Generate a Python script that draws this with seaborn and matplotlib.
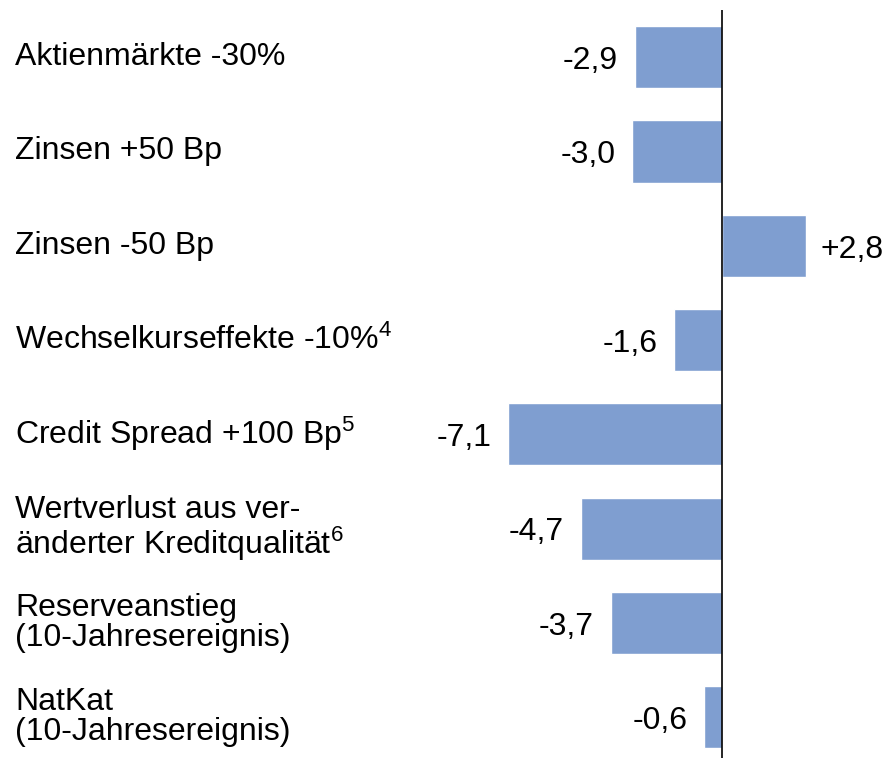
import matplotlib
matplotlib.use("Agg")
import matplotlib.pyplot as plt
import matplotlib.transforms as mtransforms
import seaborn as sns

labels = [
    "Aktienmärkte -30%",
    "Zinsen +50 Bp",
    "Zinsen -50 Bp",
    "Wechselkurseffekte -10%$^{4}$",
    "Credit Spread +100 Bp$^{5}$",
    "Wertverlust aus ver-\nänderter Kreditqualität$^{6}$",
    "Reserveanstieg\n(10-Jahresereignis)",
    "NatKat\n(10-Jahresereignis)",
]
values = [-2.9, -3.0, 2.8, -1.6, -7.1, -4.7, -3.7, -0.6]
value_text = ["-2,9", "-3,0", "+2,8", "-1,6", "-7,1", "-4,7", "-3,7", "-0,6"]

sns.set_style("white")
plt.rcParams['font.family'] = ['Liberation Sans', 'DejaVu Sans']
plt.rcParams['mathtext.default'] = 'regular'
plt.rcParams['text.color'] = 'black'

W, H = 884, 758
fig = plt.figure(figsize=(W / 100, H / 100), dpi=100)
ax = fig.add_axes([400 / W, 0, 1 - 400 / W, 1 - 10 / H])

ids = [str(i) for i in range(len(values))]
sns.barplot(x=values, y=ids, orient="h", color="#7F9ED0", width=0.66,
            saturation=1, ax=ax)

ax.set_xlim((400 - 722) / 30.1, (884 - 722) / 30.1)
ax.set_ylim(-0.5 + 748 / 94.3, -0.5)
ax.axvline(0, color="black", lw=1.2)

for s in ax.spines.values():
    s.set_visible(False)
ax.set_xticks([])
ax.set_yticks([])
ax.set_xlabel("")
ax.set_ylabel("")

trans = mtransforms.blended_transform_factory(fig.transFigure, ax.transData)
for i, lab in enumerate(labels):
    ax.text(15 / W, i, lab, transform=trans, ha="left", va="center",
            fontsize=23, linespacing=0.98, color="black")

for i, (v, t) in enumerate(zip(values, value_text)):
    off = 0.48 if v > 0 else -0.55
    ax.text(v + off, i + 0.04, t, ha="left" if v > 0 else "right",
            va="center", fontsize=23, color="black")

fig.savefig("out.png", dpi=100)
